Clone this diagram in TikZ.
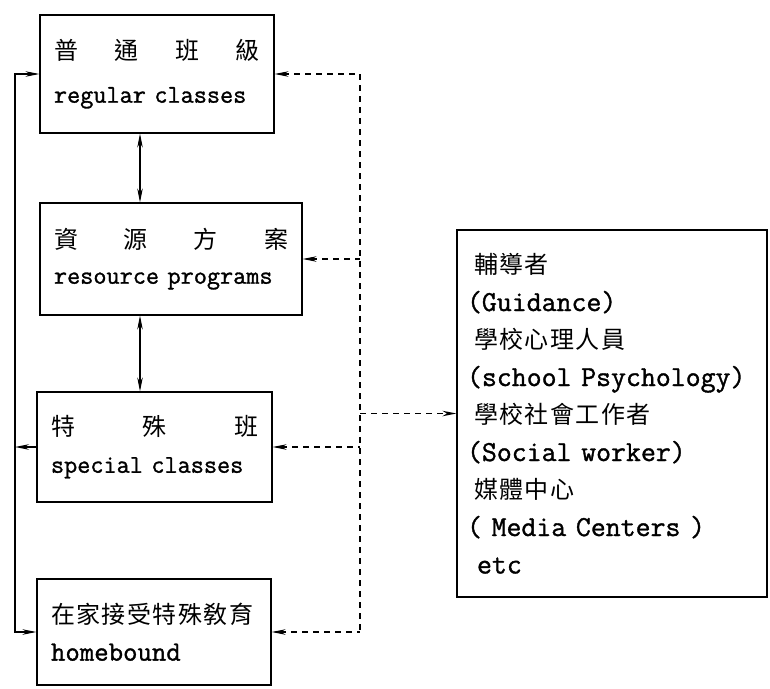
\documentclass[tikz,border=0pt]{standalone}
\usepackage{fontspec}
\setmainfont{Liberation Serif}
\newfontfamily\enfont[FakeBold=1.2]{Latin Modern Mono}
\newfontfamily\cjk[LetterSpace=6]{Noto Sans CJK TC}
\usetikzlibrary{arrows.meta}
\tikzset{
  classbox/.style={draw, line width=1.2pt, inner xsep=14pt, inner ysep=0pt, align=left,
    font=\fontsize{25.5}{37}\selectfont\enfont},
  tip/.style={Stealth[length=14pt,width=5.5pt]},
  flowline/.style={line width=1.2pt, -{Stealth[length=14pt,width=5.5pt]}},
  dashline/.style={line width=1.3pt, dash pattern=on 6pt off 5pt},
}
\newcommand{\spreadline}[1]{\hbox to \linewidth{\fontsize{24}{37}\selectfont\cjk #1}}
\newcommand{\cjkline}[1]{{\fontsize{24}{37}\selectfont\cjk #1}}
\begin{document}
\begin{tikzpicture}[x=1pt,y=-1pt]
\useasboundingbox (0,0) rectangle (770,688);

% Drawing the four placements
\node[classbox, text width=206pt, minimum height=118pt] (regular) at (157,74)
  {\spreadline{普\hfill 通\hfill 班\hfill 級}\\[6pt]regular classes};%
\node[classbox, text width=234pt, minimum height=112pt] (resource) at (171,259)
  {\spreadline{資\hfill 源\hfill 方\hfill 案}\\[-2pt]resource programs};%
\node[classbox, text width=207pt, minimum height=110pt] (special) at (154.5,447)
  {\spreadline{特\hfill 殊\hfill 班}\\special classes};%
\node[classbox, text width=206pt, minimum height=106pt] (homebound) at (154,632)
  {\cjkline{在家接受特殊敎育}\\{\fontsize{28}{37}\selectfont homebound}};%

% Drawing the support services
\node[classbox, inner xsep=10pt, text width=290pt, minimum height=367pt, font=\fontsize{29}{37.5}\selectfont\enfont]
  (services) at (612,413.5)
  {\hspace*{7pt}\cjkline{輔導者}\\
   (Guidance)\\
   \hspace*{7pt}\cjkline{學校心理人員}\\
   (school Psychology)\\
   \hspace*{7pt}\cjkline{學校社會工作者}\\
   (Social worker)\\
   \hspace*{7pt}\cjkline{媒體中心}\\
   ( Media Centers )\\
   \hspace*{10pt}etc};%

% Drawing the bus lines
\coordinate (leftbus) at (15,0);%
\coordinate (midaxis) at (140,0);%
\coordinate (dashbus) at (360,0);%

\draw[flowline, {Stealth[length=14pt,width=5.5pt]}-{Stealth[length=14pt,width=5.5pt]}]
  (regular.south -| midaxis) -- (resource.north -| midaxis);%
\draw[flowline, {Stealth[length=14pt,width=5.5pt]}-{Stealth[length=14pt,width=5.5pt]}]
  (resource.south -| midaxis) -- (special.north -| midaxis);%

\draw[flowline] (special.west) -- (special.west -| leftbus);%
\draw[flowline] (special.west -| leftbus) |- (regular.west);%
\draw[flowline] (special.west -| leftbus) |- (homebound.west);%

\draw[dashline] (regular.east -| dashbus) -- (homebound.east -| dashbus);%
\foreach \place in {regular, resource, special, homebound}
  \draw[dashline, {Stealth[length=14pt,width=5.5pt]}-] (\place.east) -- (\place.east -| dashbus);%
\draw[dashline, -{Stealth[length=14pt,width=5.5pt]}] (services.west -| dashbus) -- (services.west);%
\end{tikzpicture}
\end{document}
